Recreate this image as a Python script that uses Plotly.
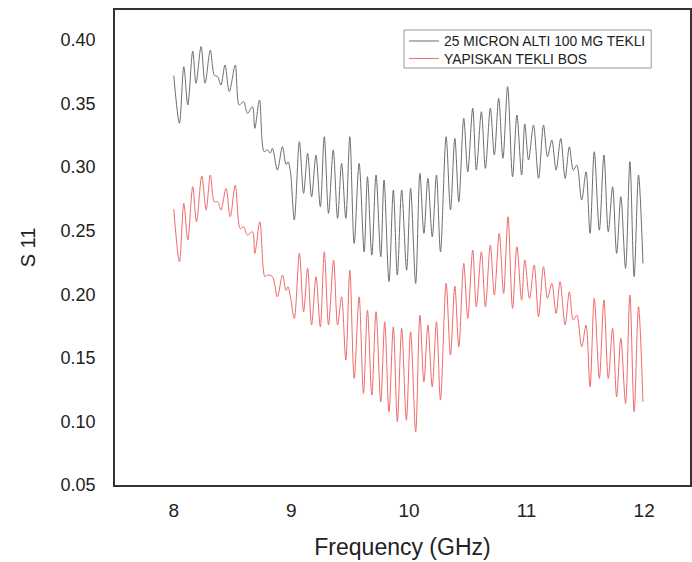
import plotly.graph_objects as go

# 25 MICRON ALTI 100 MG TEKLI (black/grey curve)
freq_black = [8.000, 8.048, 8.085, 8.119, 8.161, 8.189, 8.232, 8.266, 8.311, 8.345, 8.373, 8.401,
              8.435, 8.472, 8.523, 8.556, 8.593, 8.627, 8.669, 8.689, 8.729, 8.768, 8.797, 8.820, 8.839,
              8.881, 8.924, 8.955, 8.972, 8.992, 9.025, 9.068, 9.104, 9.138, 9.172, 9.209, 9.246, 9.280,
              9.316, 9.356, 9.393, 9.427, 9.463, 9.497, 9.534, 9.576, 9.619, 9.647, 9.684, 9.720, 9.760,
              9.788, 9.830, 9.867, 9.901, 9.938, 9.980, 10.014, 10.057, 10.093, 10.127, 10.161, 10.198,
              10.234, 10.268, 10.316, 10.353, 10.390, 10.424, 10.466, 10.500, 10.542, 10.573, 10.616,
              10.650, 10.692, 10.726, 10.763, 10.799, 10.839, 10.881, 10.918, 10.958, 10.985, 11.017,
              11.059, 11.102, 11.144, 11.178, 11.215, 11.251, 11.291, 11.328, 11.364, 11.398, 11.427,
              11.469, 11.506, 11.540, 11.576, 11.619, 11.658, 11.695, 11.732, 11.766, 11.802, 11.842,
              11.879, 11.915, 11.952, 11.990]
s11_black = [0.372, 0.3345, 0.379, 0.3489, 0.3913, 0.366, 0.3948, 0.366, 0.3921, 0.3724, 0.3711, 0.3646,
             0.3803, 0.3594, 0.3803, 0.3489, 0.3515, 0.3423, 0.3476, 0.3305, 0.3528, 0.3122, 0.3135, 0.3110, 0.3148,
             0.2977, 0.3161, 0.302, 0.3043, 0.2964, 0.2584, 0.320, 0.2794, 0.3108, 0.2767, 0.3095, 0.2689, 0.3239,
             0.2636, 0.3135, 0.2597, 0.303, 0.2597, 0.3239, 0.240, 0.303, 0.2334, 0.2925, 0.2308, 0.2938, 0.2295,
             0.2899, 0.2099, 0.282, 0.2151, 0.282, 0.219, 0.2833, 0.2085, 0.2951, 0.2479, 0.2912, 0.2452,
             0.2938, 0.2334, 0.3239, 0.2663, 0.3226, 0.2728, 0.3384, 0.2964, 0.3463, 0.2977, 0.3436,
             0.299, 0.3463, 0.3095, 0.3541, 0.3069, 0.3633, 0.2925, 0.341, 0.2938, 0.334, 0.3056,
             0.3331, 0.2912, 0.3331, 0.3082, 0.3213, 0.2977, 0.3226, 0.2912, 0.316, 0.2977, 0.3017,
             0.2741, 0.2964, 0.2479, 0.3121, 0.2505, 0.3095, 0.2492, 0.2846, 0.2322, 0.2767, 0.2204,
             0.3043, 0.2138, 0.2938, 0.2243]

# YAPISKAN TEKLI BOS (red curve)
freq_red = [8.000, 8.048, 8.085, 8.119, 8.161, 8.193, 8.238, 8.275, 8.311, 8.345, 8.373, 8.401,
            8.444, 8.480, 8.523, 8.565, 8.593, 8.627, 8.669, 8.689, 8.732, 8.775, 8.797, 8.839, 8.881,
            8.924, 8.955, 8.972, 8.992, 9.025, 9.068, 9.104, 9.138, 9.172, 9.209, 9.246, 9.280, 9.316,
            9.359, 9.393, 9.427, 9.463, 9.497, 9.534, 9.576, 9.613, 9.647, 9.684, 9.720, 9.760, 9.794,
            9.830, 9.867, 9.901, 9.938, 9.978, 10.014, 10.057, 10.093, 10.127, 10.161, 10.198, 10.234,
            10.268, 10.316, 10.353, 10.390, 10.424, 10.466, 10.500, 10.542, 10.573, 10.616, 10.650,
            10.692, 10.726, 10.768, 10.805, 10.842, 10.881, 10.918, 10.958, 10.985, 11.025, 11.065,
            11.102, 11.144, 11.178, 11.215, 11.251, 11.285, 11.328, 11.364, 11.398, 11.427, 11.469,
            11.506, 11.540, 11.576, 11.619, 11.658, 11.695, 11.732, 11.766, 11.802, 11.842, 11.879,
            11.915, 11.952, 11.990]
s11_red = [0.267, 0.2256, 0.2715, 0.2426, 0.2846, 0.257, 0.293, 0.2663, 0.2938, 0.2728, 0.2728, 0.2663,
           0.2833, 0.261, 0.2859, 0.2518, 0.2531, 0.2466, 0.2492, 0.2322, 0.257, 0.2138, 0.2151, 0.2138, 0.198,
           0.2151, 0.203, 0.2059, 0.198, 0.181, 0.2322, 0.1863, 0.2204, 0.1758, 0.2138, 0.1744, 0.2334, 0.1758,
           0.2269, 0.1758, 0.198, 0.1482, 0.219, 0.1338, 0.198, 0.122, 0.1876, 0.1207, 0.1863, 0.1154, 0.1784,
           0.1076, 0.1744, 0.0997, 0.1732, 0.101, 0.1705, 0.0918, 0.1836, 0.1312, 0.1758, 0.1272, 0.1784,
           0.1168, 0.2086, 0.1522, 0.2065, 0.1587, 0.2243, 0.181, 0.2348, 0.1902, 0.2334, 0.1902,
           0.2387, 0.1994, 0.2479, 0.2007, 0.261, 0.1889, 0.2374, 0.1954, 0.227, 0.1967, 0.223,
           0.1823, 0.2217, 0.1968, 0.2086, 0.185, 0.2099, 0.1758, 0.202, 0.1797, 0.1836, 0.1587,
           0.1758, 0.1272, 0.1968, 0.1338, 0.1954, 0.1338, 0.1732, 0.1194, 0.1653, 0.1141, 0.1994,
           0.1076, 0.1902, 0.1154]

x_ticks = [8, 9, 10, 11, 12]
y_ticks = [0.05, 0.10, 0.15, 0.20, 0.25, 0.30, 0.35, 0.40]
y_tick_labels = ["0.05", "0.10", "0.15", "0.20", "0.25", "0.30", "0.35", "0.40"]

FONT = "Liberation Sans, Arial, sans-serif"

fig = go.Figure()
fig.add_trace(go.Scatter(x=freq_black, y=s11_black, mode="lines", name="25 MICRON ALTI 100 MG TEKLI",
                         legend="legend",
                         line=dict(color="#6e6e6e", width=1, shape="spline", smoothing=0.9)))
fig.add_trace(go.Scatter(x=freq_red, y=s11_red, mode="lines", name="YAPISKAN TEKLI BOS",
                         legend="legend2",
                         line=dict(color="#f06a6a", width=1, shape="spline", smoothing=0.9)))

legend_font = dict(size=13.8, family=FONT, color="#222")

fig.update_layout(
    width=692, height=562,
    margin=dict(l=115, r=0, t=10, b=77),
    paper_bgcolor="white", plot_bgcolor="white",
    font=dict(family=FONT, color="#222"),
    showlegend=True,
    legend=dict(x=0.5026, y=0.9347, xanchor="left", yanchor="middle",
                bgcolor="rgba(0,0,0,0)", borderwidth=0, font=legend_font, itemwidth=30),
    legend2=dict(x=0.5026, y=0.8979, xanchor="left", yanchor="middle",
                 bgcolor="rgba(0,0,0,0)", borderwidth=0, font=legend_font, itemwidth=30),
    shapes=[dict(type="rect", xref="paper", yref="paper", x0=0.5026, x1=0.9325, y0=0.8779, y1=0.9579,
                 line=dict(color="#999", width=1), fillcolor="white", layer="above")],
    xaxis=dict(range=[7.5, 12.39], tickvals=x_ticks, ticktext=[str(v) for v in x_ticks],
               showgrid=False, zeroline=False, showline=True, linecolor="#333", linewidth=1.5,
               mirror=True, ticks="", ticklabelstandoff=7,
               tickfont=dict(size=19, family=FONT, color="#222"),
               title=dict(text="Frequency (GHz)", font=dict(size=23, family=FONT, color="#222"), standoff=19)),
    yaxis=dict(range=[0.05, 0.4236], tickvals=y_ticks, ticktext=y_tick_labels,
               showgrid=False, zeroline=False, showline=True, linecolor="#333", linewidth=1.5,
               mirror=True, ticks="", ticklabelstandoff=14,
               tickfont=dict(size=18, family=FONT, color="#222"),
               title=dict(text="S 11", font=dict(size=20, family=FONT, color="#222"), standoff=20)),
)

fig.write_html("out.html")
